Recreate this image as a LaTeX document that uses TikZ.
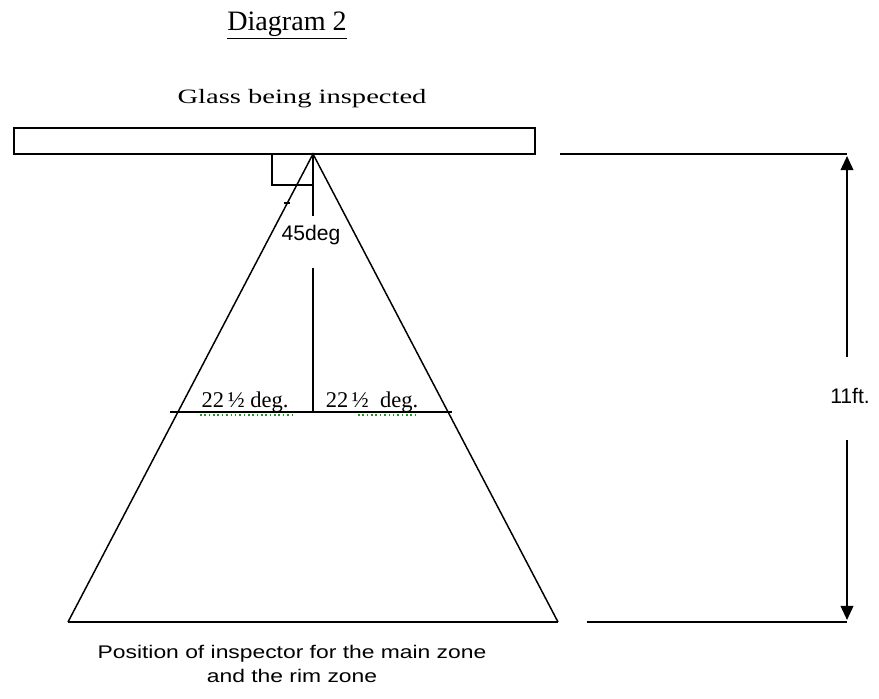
\documentclass[tikz,border=0pt]{standalone}
\usepackage{fontspec}
\setmainfont{Liberation Serif}
\newfontfamily\uisans{Liberation Sans}
\newfontfamily\widesans[FakeStretch=1.25]{Liberation Sans}
\newfontfamily\wideserif[FakeStretch=1.4]{Liberation Serif}
\usetikzlibrary{arrows.meta, positioning, calc}
\definecolor{SpellGreen}{HTML}{1E9B1E}
\tikzset{
    outline/.style={
        draw=black,
        line width=1.2pt
    },
    thinline/.style={
        draw=black,
        line width=1.05pt
    },
    dimarrow/.style={
        -{Triangle[width=9pt,length=10pt]},
        line width=1.2pt
    },
    anglelabel/.style={
        font=\fontsize{16}{18}\selectfont,
        inner sep=0pt
    },
    sanslabel/.style={
        font=\uisans\fontsize{15}{17}\selectfont,
        inner sep=0pt
    },
    squiggle/.style={
        draw=SpellGreen,
        dotted,
        line width=1.1pt
    }
}

\begin{document}
\begin{tikzpicture}[x=0.025cm, y=-0.025cm]
        \useasboundingbox (0,0) rectangle (879,698);

        % Header
        \node[anchor=base, inner sep=0pt] (title) at (287,30) {\fontsize{20}{22}\selectfont\underline{Diagram 2}};
        \node[anchor=base, inner sep=0pt, font=\wideserif\fontsize{14.5}{16}\selectfont] (glasslbl) at (302,103) {Glass being inspected};

        % Glass pane
        \draw[outline] (14,128) rectangle (535,154);
        \coordinate (apex) at (313,154);

        % Viewing cone
        \coordinate (baseL) at (68,622);
        \coordinate (baseR) at (558,622);
        \draw[thinline] (baseL) -- (apex) -- (baseR);
        \draw[thinline] (baseL) -- (baseR);
        \draw[thinline] (284,203) -- (290,203);

        % Right angle mark and axis
        \coordinate (sqA) at (272,154);
        \coordinate (sqB) at (272,185);
        \coordinate (sqC) at (313,185);
        \draw[thinline] (sqA) -- (sqB) -- (sqC);
        \node[sanslabel, anchor=base] (deg45) at (311,240) {45deg};
        \coordinate (axisA) at (313,216);
        \coordinate (axisB) at (313,268);
        \coordinate (axisC) at (313,412);
        \draw[thinline] (apex) -- (axisA);
        \draw[thinline] (axisB) -- (axisC);

        % Half angles
        \coordinate (halfL) at (170,412);
        \coordinate (halfR) at (452,412);
        \draw[thinline] (halfL) -- (halfR);
        \node[anchor=base, anglelabel] (halfdegL) at (245,407) {22\,½ deg.};
        \node[anchor=base, anglelabel] (halfdegR) at (372,407) {22\,½\ \ deg.};
        \draw[squiggle] (200,415) -- (292,415);
        \draw[squiggle] (358,415) -- (418,415);

        % Dimension
        \coordinate (dimT1) at (560,154);
        \coordinate (dimT2) at (847,154);
        \coordinate (dimB1) at (587,622);
        \coordinate (dimB2) at (847,622);
        \draw[thinline] (dimT1) -- (dimT2);
        \draw[thinline] (dimB1) -- (dimB2);
        \node[sanslabel, anchor=base] (dimlbl) at (850,403) {11ft.};
        \coordinate (gapT) at (847,357);
        \coordinate (gapB) at (847,440);
        \draw[dimarrow] (gapT) -- (847,156);
        \draw[dimarrow] (gapB) -- (847,620);

        % Inspector
        \node[anchor=north, inner sep=0pt, align=center, font=\widesans\fontsize{13}{17}\selectfont] (inspector) at (292,645) {Position of inspector for the main zone\\and the rim zone};
    \end{tikzpicture}
\end{document}
